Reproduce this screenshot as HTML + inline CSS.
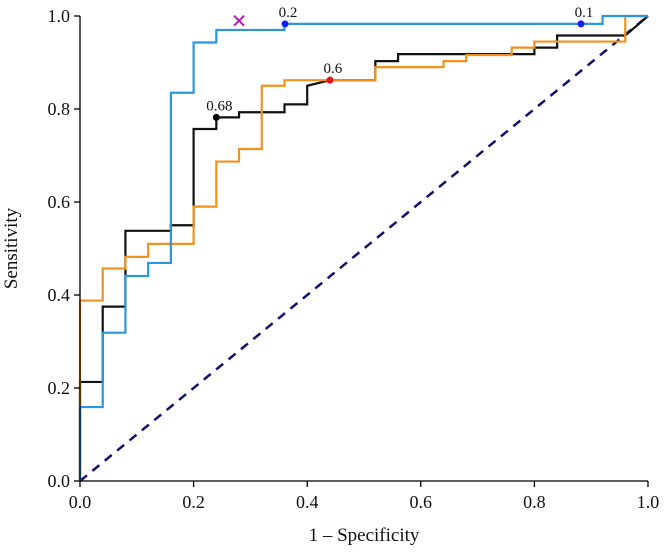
<!DOCTYPE html>
<html><head><meta charset="utf-8"><style>
body{margin:0;background:#fff;}
svg text{font-family:"Liberation Serif",serif;fill:#111;}
</style></head><body>
<svg id="c" width="664" height="547"></svg>
<script>
const xTicks=[0,0.2,0.4,0.6,0.8,1.0];
const yTicks=[0,0.2,0.4,0.6,0.8,1.0];
const blueX=[0,0,0.04,0.04,0.08,0.08,0.12,0.12,0.16,0.16,0.2,0.2,0.24,0.24,0.36,0.36,0.92,0.92,1];
const blueY=[0,0.159,0.159,0.319,0.319,0.441,0.441,0.469,0.469,0.835,0.835,0.943,0.943,0.97,0.97,0.983,0.983,1,1];
const blackX=[0,0,0.04,0.04,0.08,0.08,0.16,0.16,0.2,0.2,0.24,0.24,0.28,0.28,0.36,0.36,0.4,0.4,0.44,0.52,0.52,0.56,0.56,0.8,0.8,0.84,0.84,0.96,1];
const blackY=[0,0.213,0.213,0.375,0.375,0.538,0.538,0.55,0.55,0.757,0.757,0.782,0.782,0.793,0.793,0.81,0.81,0.85,0.862,0.862,0.903,0.903,0.918,0.918,0.932,0.932,0.958,0.958,1];
const orangeX=[0,0,0.04,0.04,0.08,0.08,0.12,0.12,0.2,0.2,0.24,0.24,0.28,0.28,0.32,0.32,0.36,0.36,0.52,0.52,0.64,0.64,0.68,0.68,0.76,0.76,0.8,0.8,0.96,0.96,1];
const orangeY=[0,0.388,0.388,0.457,0.457,0.482,0.482,0.51,0.51,0.59,0.59,0.687,0.687,0.714,0.714,0.85,0.85,0.862,0.862,0.89,0.89,0.903,0.903,0.916,0.916,0.932,0.932,0.945,0.945,1,1];
const dotX=[0.361,0.882,0.24,0.44];
const dotY=[0.983,0.983,0.782,0.862];
const dotLabels=["0.2","0.1","0.68","0.6"];
const dotColors=["#1a1aff","#1a1aff","#000","#e8141b"];
const crossX=[0.28], crossY=[0.99];

const X0=80,X1=648,Y0=481,Y1=16;
const sx=v=>X0+v*(X1-X0), sy=v=>Y0-v*(Y0-Y1);
const svg=document.getElementById('c');
const NS='http://www.w3.org/2000/svg';
function mk(t,a,p){const e=document.createElementNS(NS,t);for(const k in a)e.setAttribute(k,a[k]);(p||svg).appendChild(e);return e;}

let e=mk('line',{x1:sx(0),y1:sy(0),x2:sx(1),y2:sy(1),stroke:'#10106e','stroke-width':2.5,'stroke-dasharray':'9,7'});



function series(xs,ys,col,name){
  const pts=xs.map((x,i)=>sx(x)+','+sy(ys[i])).join(' ');
  const p=mk('polyline',{points:pts,fill:'none',stroke:col,'stroke-width':2.2});
  
  
}
series(blackX,blackY,'#111','roc-black');
series(orangeX,orangeY,'#f0921e','roc-orange');
series(blueX,blueY,'#2a96e0','roc-blue');

e=mk('line',{x1:X0,y1:Y0,x2:X1,y2:Y0,stroke:'#000','stroke-width':1.3});


e=mk('line',{x1:X0,y1:Y0,x2:X0,y2:Y1,stroke:'#000','stroke-width':1.3});


xTicks.forEach(v=>{
  mk('line',{x1:sx(v),y1:Y0,x2:sx(v),y2:Y0+6,stroke:'#000','stroke-width':1.3});
  const t=mk('text',{x:sx(v),y:Y0+27,'text-anchor':'middle','font-size':18});
  t.textContent=v.toFixed(1);
  
  
});
yTicks.forEach(v=>{
  mk('line',{x1:X0-6,y1:sy(v),x2:X0,y2:sy(v),stroke:'#000','stroke-width':1.3});
  const t=mk('text',{x:X0-10,y:sy(v)+6,'text-anchor':'end','font-size':18});
  t.textContent=v.toFixed(1);
  
  
});
e=mk('text',{x:(X0+X1)/2,y:541,'text-anchor':'middle','font-size':19});
e.textContent='1 – Specificity';


e=mk('text',{x:0,y:0,'text-anchor':'middle','font-size':19,transform:'translate(17,'+((Y0+Y1)/2)+') rotate(-90)'});
e.textContent='Sensitivity';



dotX.forEach((x,i)=>{
  const c=mk('circle',{cx:sx(x),cy:sy(dotY[i]),r:3.5,fill:dotColors[i]});
  
  
  const t=mk('text',{x:sx(x)+3,y:sy(dotY[i])-7,'text-anchor':'middle','font-size':15});
  t.textContent=dotLabels[i];
  
  
});
crossX.forEach((x,i)=>{
  const cx=sx(x), cy=sy(crossY[i]);
  const g=mk('path',{d:`M${cx-5},${cy-5}L${cx+5},${cy+5}M${cx+5},${cy-5}L${cx-5},${cy+5}`,stroke:'#b01ab0','stroke-width':2,fill:'none'});
  
  
});
</script>
</body></html>
